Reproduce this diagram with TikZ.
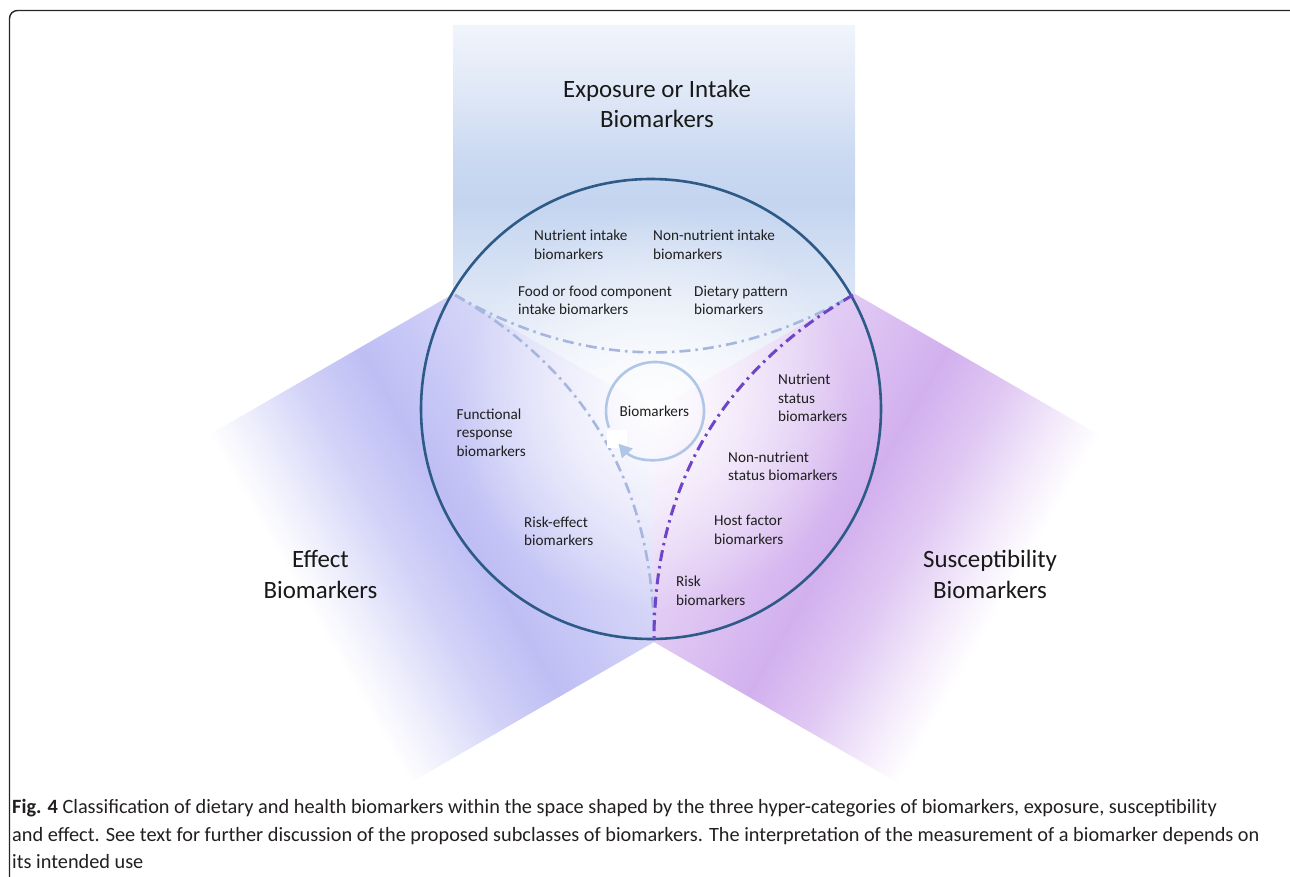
\documentclass[tikz,border=0pt]{standalone}
\usepackage{fontspec}
\setmainfont{Carlito}
\usetikzlibrary{calc,fadings,arrows.meta}

\definecolor{expoblue}{HTML}{BED0EE}
\definecolor{effblue}{HTML}{BEBEF5}
\definecolor{suspurple}{HTML}{D2B0EE}
\definecolor{ringblue}{HTML}{2E5A88}
\definecolor{cycblue}{HTML}{AFC6E6}
\definecolor{dashblue}{HTML}{A6B6DE}
\definecolor{dashpurple}{HTML}{6E44C8}
\definecolor{capgrey}{HTML}{231F20}

% shadings along one arm, from the centre (left) to the far end (right)
\pgfdeclarehorizontalshading{expoarm}{100bp}{color(0bp)=(expoblue!20); color(25bp)=(expoblue!20); color(40bp)=(expoblue!55); color(52bp)=(expoblue!90); color(58bp)=(expoblue!80); color(66bp)=(expoblue!50); color(75bp)=(expoblue!22); color(100bp)=(expoblue!22)}
\pgfdeclarehorizontalshading{effarm}{100bp}{color(0bp)=(effblue!35); color(25bp)=(effblue!35); color(42bp)=(effblue!75); color(52bp)=(effblue); color(60bp)=(effblue!70); color(68bp)=(effblue!25); color(73bp)=(white); color(100bp)=(white)}
\pgfdeclarehorizontalshading{susarm}{100bp}{color(0bp)=(suspurple!35); color(25bp)=(suspurple!35); color(42bp)=(suspurple!75); color(52bp)=(suspurple); color(60bp)=(suspurple!70); color(68bp)=(suspurple!25); color(73bp)=(white); color(100bp)=(white)}
\tikzfading[name=centreglow, inner color=transparent!0, outer color=transparent!100]

\def\armshape#1#2{\shade[shading=#1] (0,0) -- (116,201) -- (#2,201) -- (#2,-201) -- (116,-201) -- cycle;}
\def\cyclearc(#1)(#2:#3:#4){\draw[cyc] ($(#1)+(#2:#4)$) arc (#2:#3:#4);}

\tikzset{
  lbl/.style={font=\fontsize{15.2}{18.5}\selectfont, align=left, inner sep=0pt, text=black!88},
  cat/.style={font=\fontsize{24.9}{30.4}\selectfont, align=center, inner sep=0pt, text=black!90},
  capt/.style={font=\fontsize{20.3}{27.5}\selectfont, inner sep=0pt, text=capgrey},
  ring/.style={draw=ringblue, line width=2.6pt},
  lightdash/.style={draw=dashblue, line width=2.6pt, dash pattern=on 11pt off 5pt on 2.5pt off 5pt},
  purpdash/.style={draw=dashpurple, line width=3pt, dash pattern=on 11pt off 5pt on 2.5pt off 5pt},
  cyc/.style={draw=cycblue, line width=2.6pt, -{Triangle[length=13pt,width=14pt]}}
}

\begin{document}
\begin{tikzpicture}[x=1pt,y=-1pt]
		%%%%% FRAME %%%%%
		\useasboundingbox (0,0) rectangle (1290,877);
		\clip (0,0) rectangle (1290,877);
		\draw[line width=1.4pt, draw=black!85, rounded corners=8pt] (9.5,10.5) rectangle (1300,900);
		
		\coordinate (O) at (654,410);
		
		%%%%% ARMS %%%%%
		\begin{scope}[transform canvas={shift={(654,410)}, rotate=90}]
			\armshape{expoarm}{385}
		\end{scope}
		\begin{scope}[transform canvas={shift={(654,410)}, rotate=210}]
			\armshape{effarm}{415}
		\end{scope}
		\begin{scope}[transform canvas={shift={(654,410)}, rotate=-30}]
			\armshape{susarm}{415}
		\end{scope}
		
		\fill[white, path fading=centreglow, fill opacity=0.95] (O) circle (200);
		
		%%%%% CIRCLE AND BORDERS %%%%%
		\draw[ring] (651,409) circle (230);
		
		\coordinate (A) at (455,295);
		\coordinate (B) at (853,295);
		\coordinate (C) at (654,640);
		\draw[lightdash] (A) .. controls ($(A)!0.665!(O)$) and ($(B)!0.665!(O)$) .. (B);
		\draw[lightdash] (A) .. controls ($(A)!0.665!(O)$) and ($(C)!0.665!(O)$) .. (C);
		\draw[purpdash] (B) .. controls ($(B)!0.665!(O)$) and ($(C)!0.665!(O)$) .. (C);
		
		\fill[white] (607,430) rectangle (627,448);
		\coordinate (I) at (655,411);
		\cyclearc(I)(-200:138:49)
		
		%%%%% LABELS %%%%%
		\node[cat, anchor=base] (expo) at (657,128) {Exposure or Intake\\Biomarkers};
		\node[cat, anchor=base] (effect) at (320.5,598.3) {Effect\\Biomarkers};
		\node[cat, anchor=base] (suscep) at (990,598.3) {Susceptibility\\Biomarkers};
		
		\node[lbl, anchor=base] (bio) at (654.3,416) {Biomarkers};
		\node[lbl, anchor=base west] (nutint) at (534,259.5) {Nutrient intake\\biomarkers};
		\node[lbl, anchor=base west] (nonnutint) at (653,259.5) {Non-nutrient intake\\biomarkers};
		\node[lbl, anchor=base west] (foodint) at (518,315) {Food or food component\\intake biomarkers};
		\node[lbl, anchor=base west] (dietpat) at (694,315) {Dietary pattern\\biomarkers};
		\node[lbl, anchor=base west] (nutstat) at (778,421.5) {Nutrient\\status\\biomarkers};
		\node[lbl, anchor=base west] (funcresp) at (456.5,456) {Functional\\response\\biomarkers};
		\node[lbl, anchor=base west] (nonnutstat) at (728,480.5) {Non-nutrient\\status biomarkers};
		\node[lbl, anchor=base west] (riskeff) at (524,545.5) {Risk-effect\\biomarkers};
		\node[lbl, anchor=base west] (hostfac) at (714,544) {Host factor\\biomarkers};
		\node[lbl, anchor=base west] (risk) at (676,605) {Risk\\biomarkers};
		
		%%%%% CAPTION %%%%%
		\node[capt, anchor=base west] (cap1) at (12,813) {\textbf{Fig. 4} Classification of dietary and health biomarkers within the space shaped by the three hyper-categories of biomarkers, exposure, susceptibility};
		\node[capt, anchor=base west] (cap2) at (12,841) {and effect. See text for further discussion of the proposed subclasses of biomarkers. The interpretation of the measurement of a biomarker depends on};
		\node[capt, anchor=base west] (cap3) at (12,868) {its intended use};
\end{tikzpicture}
\end{document}
